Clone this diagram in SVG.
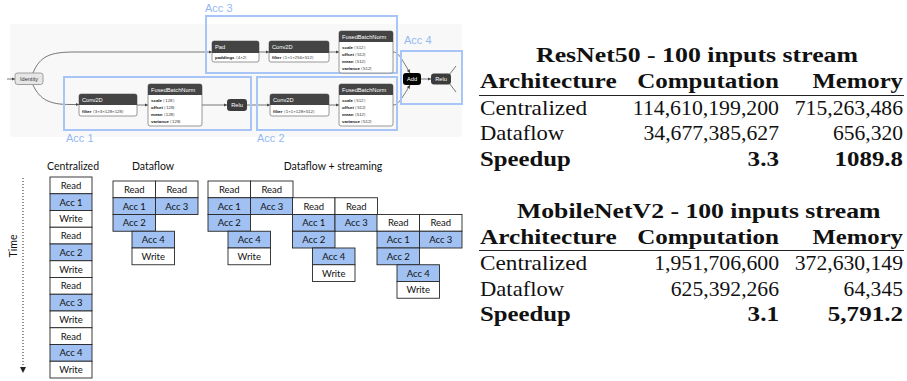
<svg xmlns="http://www.w3.org/2000/svg" width="907" height="381" viewBox="0 0 907 381">
<defs>
<style>
.acc{fill:none;stroke:#a7c6f7;stroke-width:2}
.accl{font-family:"Liberation Sans",sans-serif;font-size:11px;fill:#94b8f2}
.nb{fill:#fff;stroke:#7d7d7d;stroke-width:0.8}
.nh{fill:#444;stroke:none}
.ht{font-family:"Liberation Sans",sans-serif;font-size:5.7px;fill:#fff}
.bt{font-family:"Liberation Sans",sans-serif;font-size:4.4px;fill:#333}
.bt tspan.k{font-weight:bold;fill:#111}
.e{fill:none;stroke:#555;stroke-width:0.8}
.ea{fill:none;stroke:#555;stroke-width:0.8;marker-end:url(#ah)}
.cw{fill:#fff;stroke:#262626;stroke-width:0.9}
.cb{fill:#a0c1f2;stroke:#262626;stroke-width:0.9}
.ct{font-family:Lato,"Liberation Sans",sans-serif;font-size:9.5px;fill:#111;text-anchor:middle}
.tt{font-family:Lato,"Liberation Sans",sans-serif;font-size:10.5px;fill:#111;text-anchor:middle}
.tr{font-family:"Liberation Serif",serif;font-size:21.4px;fill:#111}
.tb{font-family:"Liberation Serif",serif;font-size:21.4px;font-weight:bold;fill:#111}
.rule{stroke:#222;stroke-width:1.2}
</style>
<marker id="ah" viewBox="0 0 6 6" refX="6" refY="3" markerWidth="3.5" markerHeight="3.5" orient="auto" markerUnits="userSpaceOnUse">
<path d="M0,0 L6,3 L0,6 z" fill="#444"/>
</marker>
<marker id="ta" viewBox="0 0 6 6" refX="3" refY="6" markerWidth="6" markerHeight="6" orient="0" markerUnits="userSpaceOnUse">
<path d="M0,0 L6,0 L3,6 z" fill="#222"/>
</marker>
</defs>
<rect width="907" height="381" fill="#fff"/>
<rect x="10" y="24" width="452" height="113" fill="#f8f8f8"/>

<g id="connectors">
<path class="ea" d="M7,79 L15,79"/>
<path class="ea" d="M33,73 C40,56 50,52 75,52 L212,52"/>
<path class="ea" d="M33,85 C40,100 50,104.5 70,104.5 L79,104.5"/>
<path class="ea" d="M137,105 L148,105"/>
<path class="ea" d="M202,105 L227,105"/>
<path class="ea" d="M247,105 L270,105"/>
<path class="ea" d="M329,105 L339,105"/>
<path class="ea" d="M259,52 L269,52"/>
<path class="ea" d="M329,52 L339,52"/>
<path class="ea" d="M393,52 C398,52 400,56 410,73"/>
<path class="ea" d="M393,105 C398,105 401,100 410,85"/>
<path class="ea" d="M421,79 L431,79"/>
<path class="e" d="M449,75 L456,66"/>
<path class="e" d="M449,83 L456,92"/>
</g>

<g id="acc3"><rect class="acc" x="206" y="16" width="191" height="57"/><text class="accl" x="205" y="11.5">Acc 3</text></g>
<g id="acc1"><rect class="acc" x="64" y="77" width="187" height="53"/><text class="accl" x="66" y="142">Acc 1</text></g>
<g id="acc2"><rect class="acc" x="257" y="77" width="140" height="53"/><text class="accl" x="257" y="142">Acc 2</text></g>
<g id="acc4"><rect class="acc" x="401" y="51" width="61" height="53"/><text class="accl" x="404" y="44">Acc 4</text></g>

<g id="identity"><rect x="15" y="73" width="28" height="11.5" rx="2.5" fill="#e6e6e6" stroke="#8a8a8a" stroke-width="0.8"/><text x="29" y="80.8" font-family="Liberation Sans,sans-serif" font-size="5.6" fill="#333" text-anchor="middle">Identity</text></g>

<g id="pad"><rect class="nb" x="212" y="41" width="47" height="21" rx="2"/><path class="nh" d="M212,53 V43 a2,2 0 0 1 2,-2 H257 a2,2 0 0 1 2,2 V53 z"/><text class="ht" x="215" y="49.3">Pad</text><text class="bt" x="215" y="59.3"><tspan class="k">paddings</tspan> ⟨4×2⟩</text></g>

<g id="conv2d-top"><rect class="nb" x="269" y="41" width="60" height="21" rx="2"/><path class="nh" d="M269,53 V43 a2,2 0 0 1 2,-2 H327 a2,2 0 0 1 2,2 V53 z"/><text class="ht" x="272" y="49.3">Conv2D</text><text class="bt" x="272" y="59.3"><tspan class="k">filter</tspan> ⟨1×1×256×512⟩</text></g>

<g id="fbn-top"><rect class="nb" x="339" y="31" width="54" height="42" rx="2"/><path class="nh" d="M339,42 V33 a2,2 0 0 1 2,-2 H391 a2,2 0 0 1 2,2 V42 z"/><text class="ht" x="342" y="38.8">FusedBatchNorm</text><text class="bt" x="342" y="48.5"><tspan class="k">scale</tspan> ⟨512⟩</text><text class="bt" x="342" y="55.5"><tspan class="k">offset</tspan> ⟨512⟩</text><text class="bt" x="342" y="62.5"><tspan class="k">mean</tspan> ⟨512⟩</text><text class="bt" x="342" y="69.5"><tspan class="k">variance</tspan> ⟨512⟩</text></g>

<g id="conv2d-acc1"><rect class="nb" x="79" y="94" width="58" height="22" rx="2"/><path class="nh" d="M79,105 V96 a2,2 0 0 1 2,-2 H135 a2,2 0 0 1 2,2 V105 z"/><text class="ht" x="82" y="102.3">Conv2D</text><text class="bt" x="82" y="112.5"><tspan class="k">filter</tspan> ⟨3×3×128×128⟩</text></g>

<g id="fbn-acc1"><rect class="nb" x="148" y="84" width="54" height="42" rx="2"/><path class="nh" d="M148,95 V86 a2,2 0 0 1 2,-2 H200 a2,2 0 0 1 2,2 V95 z"/><text class="ht" x="151" y="91.8">FusedBatchNorm</text><text class="bt" x="151" y="101.5"><tspan class="k">scale</tspan> ⟨128⟩</text><text class="bt" x="151" y="108.5"><tspan class="k">offset</tspan> ⟨128⟩</text><text class="bt" x="151" y="115.5"><tspan class="k">mean</tspan> ⟨128⟩</text><text class="bt" x="151" y="122.5"><tspan class="k">variance</tspan> ⟨128⟩</text></g>

<g id="relu-acc1"><rect x="227" y="99" width="20" height="12" rx="3" fill="#3c3c3c"/><text class="ht" x="237" y="107" text-anchor="middle">Relu</text></g>

<g id="conv2d-acc2"><rect class="nb" x="270" y="94" width="59" height="22" rx="2"/><path class="nh" d="M270,105 V96 a2,2 0 0 1 2,-2 H327 a2,2 0 0 1 2,2 V105 z"/><text class="ht" x="273" y="102.3">Conv2D</text><text class="bt" x="273" y="112.5"><tspan class="k">filter</tspan> ⟨1×1×128×512⟩</text></g>

<g id="fbn-acc2"><rect class="nb" x="339" y="84" width="54" height="42" rx="2"/><path class="nh" d="M339,95 V86 a2,2 0 0 1 2,-2 H391 a2,2 0 0 1 2,2 V95 z"/><text class="ht" x="342" y="91.8">FusedBatchNorm</text><text class="bt" x="342" y="101.5"><tspan class="k">scale</tspan> ⟨512⟩</text><text class="bt" x="342" y="108.5"><tspan class="k">offset</tspan> ⟨512⟩</text><text class="bt" x="342" y="115.5"><tspan class="k">mean</tspan> ⟨512⟩</text><text class="bt" x="342" y="122.5"><tspan class="k">variance</tspan> ⟨512⟩</text></g>

<g id="add"><rect x="403" y="73" width="18" height="12" rx="3" fill="#000"/><text class="ht" x="412" y="81" text-anchor="middle">Add</text></g>
<g id="relu-acc4"><rect x="431" y="73.5" width="20" height="11" rx="3" fill="#3c3c3c"/><text class="ht" x="441" y="81" text-anchor="middle">Relu</text></g>

<g id="time-axis">
<line x1="23" y1="178" x2="23" y2="373" stroke="#222" stroke-width="1" stroke-dasharray="1,2" marker-end="url(#ta)"/>
<text class="tt" transform="translate(17,246) rotate(-90)">Time</text>
</g>

<g id="centralized">
<text class="tt" x="73" y="169.5">Centralized</text>
<rect class="cw" x="50" y="177" width="42" height="16.75"/><text class="ct" x="71" y="188.8">Read</text>
<rect class="cb" x="50" y="193.75" width="42" height="16.75"/><text class="ct" x="71" y="205.5">Acc 1</text>
<rect class="cw" x="50" y="210.5" width="42" height="16.75"/><text class="ct" x="71" y="222.3">Write</text>
<rect class="cw" x="50" y="227.25" width="42" height="16.75"/><text class="ct" x="71" y="239">Read</text>
<rect class="cb" x="50" y="244" width="42" height="16.75"/><text class="ct" x="71" y="255.8">Acc 2</text>
<rect class="cw" x="50" y="260.75" width="42" height="16.75"/><text class="ct" x="71" y="272.5">Write</text>
<rect class="cw" x="50" y="277.5" width="42" height="16.75"/><text class="ct" x="71" y="289.3">Read</text>
<rect class="cb" x="50" y="294.25" width="42" height="16.75"/><text class="ct" x="71" y="306">Acc 3</text>
<rect class="cw" x="50" y="311" width="42" height="16.75"/><text class="ct" x="71" y="322.8">Write</text>
<rect class="cw" x="50" y="327.75" width="42" height="16.75"/><text class="ct" x="71" y="339.5">Read</text>
<rect class="cb" x="50" y="344.5" width="42" height="16.75"/><text class="ct" x="71" y="356.3">Acc 4</text>
<rect class="cw" x="50" y="361.25" width="42" height="16.75"/><text class="ct" x="71" y="373">Write</text>
</g>

<g id="dataflow">
<text class="tt" x="153" y="169.5">Dataflow</text>
<rect class="cw" x="113" y="181" width="42.5" height="16.75"/><text class="ct" x="134.25" y="192.8">Read</text>
<rect class="cw" x="155.5" y="181" width="42.5" height="16.75"/><text class="ct" x="176.75" y="192.8">Read</text>
<rect class="cb" x="113" y="197.75" width="42.5" height="16.75"/><text class="ct" x="134.25" y="209.5">Acc 1</text>
<rect class="cb" x="155.5" y="197.75" width="42.5" height="16.75"/><text class="ct" x="176.75" y="209.5">Acc 3</text>
<rect class="cb" x="113" y="214.5" width="42.5" height="16.75"/><text class="ct" x="134.25" y="226.3">Acc 2</text>
<rect class="cb" x="132" y="231.25" width="42.5" height="16.75"/><text class="ct" x="153.25" y="243">Acc 4</text>
<rect class="cw" x="132" y="248" width="42.5" height="16.75"/><text class="ct" x="153.25" y="259.8">Write</text>
</g>

<g id="streaming">
<text class="tt" x="333" y="169.5">Dataflow + streaming</text>
<g id="stream-1">
<rect class="cw" x="208" y="181" width="42.5" height="16.75"/><text class="ct" x="229.25" y="192.8">Read</text>
<rect class="cw" x="250.5" y="181" width="42.5" height="16.75"/><text class="ct" x="271.75" y="192.8">Read</text>
<rect class="cb" x="208" y="197.75" width="42.5" height="16.75"/><text class="ct" x="229.25" y="209.5">Acc 1</text>
<rect class="cb" x="250.5" y="197.75" width="42.5" height="16.75"/><text class="ct" x="271.75" y="209.5">Acc 3</text>
<rect class="cb" x="208" y="214.5" width="42.5" height="16.75"/><text class="ct" x="229.25" y="226.3">Acc 2</text>
<rect class="cb" x="228" y="231.25" width="42.5" height="16.75"/><text class="ct" x="249.25" y="243">Acc 4</text>
<rect class="cw" x="228" y="248" width="42.5" height="16.75"/><text class="ct" x="249.25" y="259.8">Write</text>
</g>
<g id="stream-2" transform="translate(84.5,16.75)">
<rect class="cw" x="208" y="181" width="42.5" height="16.75"/><text class="ct" x="229.25" y="192.8">Read</text>
<rect class="cw" x="250.5" y="181" width="42.5" height="16.75"/><text class="ct" x="271.75" y="192.8">Read</text>
<rect class="cb" x="208" y="197.75" width="42.5" height="16.75"/><text class="ct" x="229.25" y="209.5">Acc 1</text>
<rect class="cb" x="250.5" y="197.75" width="42.5" height="16.75"/><text class="ct" x="271.75" y="209.5">Acc 3</text>
<rect class="cb" x="208" y="214.5" width="42.5" height="16.75"/><text class="ct" x="229.25" y="226.3">Acc 2</text>
<rect class="cb" x="228" y="231.25" width="42.5" height="16.75"/><text class="ct" x="249.25" y="243">Acc 4</text>
<rect class="cw" x="228" y="248" width="42.5" height="16.75"/><text class="ct" x="249.25" y="259.8">Write</text>
</g>
<g id="stream-3" transform="translate(169,33.5)">
<rect class="cw" x="208" y="181" width="42.5" height="16.75"/><text class="ct" x="229.25" y="192.8">Read</text>
<rect class="cw" x="250.5" y="181" width="42.5" height="16.75"/><text class="ct" x="271.75" y="192.8">Read</text>
<rect class="cb" x="208" y="197.75" width="42.5" height="16.75"/><text class="ct" x="229.25" y="209.5">Acc 1</text>
<rect class="cb" x="250.5" y="197.75" width="42.5" height="16.75"/><text class="ct" x="271.75" y="209.5">Acc 3</text>
<rect class="cb" x="208" y="214.5" width="42.5" height="16.75"/><text class="ct" x="229.25" y="226.3">Acc 2</text>
<rect class="cb" x="228" y="231.25" width="42.5" height="16.75"/><text class="ct" x="249.25" y="243">Acc 4</text>
<rect class="cw" x="228" y="248" width="42.5" height="16.75"/><text class="ct" x="249.25" y="259.8">Write</text>
</g>
</g>

<g id="table-resnet50">
<text class="tb" x="536" y="62.3" textLength="322" lengthAdjust="spacingAndGlyphs">ResNet50 - 100 inputs stream</text>
<text class="tb" x="480" y="88" textLength="136.6" lengthAdjust="spacingAndGlyphs">Architecture</text>
<text class="tb" x="637.2" y="88" textLength="141.8" lengthAdjust="spacingAndGlyphs">Computation</text>
<text class="tb" x="812.4" y="88" textLength="90.6" lengthAdjust="spacingAndGlyphs">Memory</text>
<line class="rule" x1="479" y1="95.5" x2="904" y2="95.5"/>
<text class="tr" x="480" y="114.5" textLength="107.1" lengthAdjust="spacingAndGlyphs">Centralized</text>
<text class="tr" x="632.8" y="114.5" textLength="146.2" lengthAdjust="spacingAndGlyphs">114,610,199,200</text>
<text class="tr" x="794.8" y="114.5" textLength="108.2" lengthAdjust="spacingAndGlyphs">715,263,486</text>
<text class="tr" x="480" y="140.2" textLength="84.1" lengthAdjust="spacingAndGlyphs">Dataflow</text>
<text class="tr" x="643.5" y="140.2" textLength="135.5" lengthAdjust="spacingAndGlyphs">34,677,385,627</text>
<text class="tr" x="832.9" y="140.2" textLength="70.1" lengthAdjust="spacingAndGlyphs">656,320</text>
<text class="tb" x="480" y="165.9" textLength="90.9" lengthAdjust="spacingAndGlyphs">Speedup</text>
<text class="tb" x="747.6" y="165.9" textLength="31.4" lengthAdjust="spacingAndGlyphs">3.3</text>
<text class="tb" x="834.6" y="165.9" textLength="68.4" lengthAdjust="spacingAndGlyphs">1089.8</text>
</g>

<g id="table-mobilenetv2">
<text class="tb" x="517" y="217.5" textLength="363.5" lengthAdjust="spacingAndGlyphs">MobileNetV2 - 100 inputs stream</text>
<text class="tb" x="480" y="243.5" textLength="136.6" lengthAdjust="spacingAndGlyphs">Architecture</text>
<text class="tb" x="637.2" y="243.5" textLength="141.8" lengthAdjust="spacingAndGlyphs">Computation</text>
<text class="tb" x="812.4" y="243.5" textLength="90.6" lengthAdjust="spacingAndGlyphs">Memory</text>
<line class="rule" x1="479" y1="250.5" x2="904" y2="250.5"/>
<text class="tr" x="480" y="270" textLength="107.1" lengthAdjust="spacingAndGlyphs">Centralized</text>
<text class="tr" x="654.2" y="270" textLength="124.8" lengthAdjust="spacingAndGlyphs">1,951,706,600</text>
<text class="tr" x="794.8" y="270" textLength="108.2" lengthAdjust="spacingAndGlyphs">372,630,149</text>
<text class="tr" x="480" y="295.7" textLength="84.1" lengthAdjust="spacingAndGlyphs">Dataflow</text>
<text class="tr" x="670.8" y="295.7" textLength="108.2" lengthAdjust="spacingAndGlyphs">625,392,266</text>
<text class="tr" x="843.6" y="295.7" textLength="59.4" lengthAdjust="spacingAndGlyphs">64,345</text>
<text class="tb" x="480" y="321.4" textLength="90.9" lengthAdjust="spacingAndGlyphs">Speedup</text>
<text class="tb" x="747.6" y="321.4" textLength="31.4" lengthAdjust="spacingAndGlyphs">3.1</text>
<text class="tb" x="827.8" y="321.4" textLength="75.2" lengthAdjust="spacingAndGlyphs">5,791.2</text>
</g>
</svg>
